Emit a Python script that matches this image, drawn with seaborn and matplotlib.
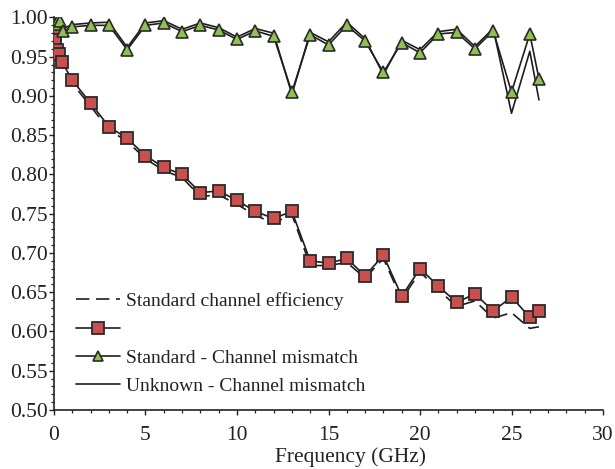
import matplotlib
matplotlib.use("Agg")
import matplotlib.pyplot as plt
from matplotlib.lines import Line2D
from matplotlib.ticker import MultipleLocator
import seaborn as sns
import pandas as pd

# ---- data ----
freq_eff = [0.04, 0.08, 0.15, 0.3, 0.45, 1, 2, 3, 4, 5, 6, 7, 8, 9, 10, 11, 12, 13,
            14, 15, 16, 17, 18, 19, 20, 21, 22, 23, 24, 25, 26, 26.5]
unknown_eff = [0.978, 0.971, 0.959, 0.953, 0.943, 0.920, 0.891, 0.861, 0.846, 0.824,
               0.809, 0.800, 0.777, 0.779, 0.767, 0.753, 0.744, 0.753, 0.690, 0.687,
               0.693, 0.671, 0.697, 0.645, 0.680, 0.658, 0.637, 0.648, 0.626, 0.644,
               0.618, 0.626]
standard_eff = [0.975, 0.967, 0.955, 0.949, 0.939, 0.916, 0.887, 0.857, 0.842, 0.820,
                0.805, 0.796, 0.772, 0.774, 0.762, 0.748, 0.738, 0.749, 0.684, 0.684,
                0.688, 0.668, 0.693, 0.641, 0.676, 0.653, 0.632, 0.639, 0.617, 0.624,
                0.604, 0.606]

freq_mm = [0.05, 0.2, 0.35, 0.5, 1, 2, 3, 4, 5, 6, 7, 8, 9, 10, 11, 12, 13, 14, 15,
           16, 17, 18, 19, 20, 21, 22, 23, 24, 25, 26, 26.5]
standard_mm = [0.992, 0.997, 0.995, 0.983, 0.988, 0.990, 0.990, 0.959, 0.990, 0.993,
               0.982, 0.990, 0.984, 0.972, 0.983, 0.976, 0.905, 0.978, 0.965, 0.990,
               0.970, 0.930, 0.968, 0.955, 0.979, 0.981, 0.960, 0.983, 0.905, 0.979,
               0.922]
unknown_mm = [0.994, 0.999, 0.997, 0.986, 0.991, 0.993, 0.994, 0.962, 0.993, 0.996,
              0.985, 0.993, 0.987, 0.975, 0.986, 0.980, 0.902, 0.981, 0.969, 0.994,
              0.973, 0.927, 0.971, 0.959, 0.982, 0.985, 0.963, 0.986, 0.878, 0.957,
              0.895]

labels = ["Standard channel efficiency", "",
          "Standard - Channel mismatch", "Unknown - Channel mismatch"]
x_ticks = [0, 5, 10, 15, 20, 25, 30]
y_ticks = [0.50, 0.55, 0.60, 0.65, 0.70, 0.75, 0.80, 0.85, 0.90, 0.95, 1.00]

df_eff = pd.DataFrame({"f": freq_eff, "unk": unknown_eff, "std": standard_eff})
df_mm = pd.DataFrame({"f": freq_mm, "unk": unknown_mm, "std": standard_mm})

# ---- style ----
sns.set_style("ticks")
plt.rcParams["font.family"] = ["Liberation Serif", "DejaVu Serif"]

LINE = "#1e1e1e"
RED = "#c9504f"
GREEN = "#8fc150"
EDGE = "#2a2a2a"

fig = plt.figure(figsize=(6.15, 4.69), dpi=100)
ax = fig.add_axes([0.0878, 0.1258, 0.8927, 0.8369])

sns.lineplot(data=df_mm, x="f", y="unk", ax=ax, color=LINE, lw=1.2, zorder=2)
sns.lineplot(data=df_eff, x="f", y="std", ax=ax, color=LINE, lw=1.2,
             dashes=False, zorder=2)
ax.lines[-1].set_dashes([8, 4])
sns.lineplot(data=df_eff, x="f", y="unk", ax=ax, color=LINE, lw=1.2, zorder=3,
             marker="s", markersize=9, markerfacecolor=RED,
             markeredgecolor=EDGE, markeredgewidth=1.3)
sns.lineplot(data=df_mm, x="f", y="std", ax=ax, color=LINE, lw=1.2, zorder=3,
             marker="^", markersize=8.5, markerfacecolor=GREEN,
             markeredgecolor=EDGE, markeredgewidth=1.2)

ax.set_xlim(0, 30)
ax.set_ylim(0.50, 1.00)
ax.set_xticks(x_ticks)
ax.set_xticklabels([str(v) for v in x_ticks])
ax.set_yticks(y_ticks)
ax.set_yticklabels([f"{v:.2f}" for v in y_ticks])
ax.xaxis.set_minor_locator(MultipleLocator(1))
ax.yaxis.set_minor_locator(MultipleLocator(0.01))
ax.tick_params(axis="both", which="major", direction="out", length=3.5,
               width=1.0, color="#222222", labelsize=15.5, labelcolor="#222222")
ax.tick_params(axis="x", which="major", pad=8)
ax.tick_params(axis="y", which="major", pad=1)
ax.tick_params(axis="both", which="minor", direction="out", length=2.5,
               width=0.9, color="#222222")
for s in ["top", "right"]:
    ax.spines[s].set_visible(False)
for s in ["left", "bottom"]:
    ax.spines[s].set_color("#222222")
    ax.spines[s].set_linewidth(1.2)

ax.set_xlabel("Frequency (GHz)", fontsize=15.5, color="#222222", labelpad=1)
ax.xaxis.set_label_coords(0.54, -0.095)
ax.set_ylabel("")

handles = [
    Line2D([], [], color=LINE, lw=1.2, dashes=[8, 4]),
    Line2D([], [], color=LINE, lw=1.2, marker="s", markersize=8.5,
           markerfacecolor=RED, markeredgecolor=EDGE, markeredgewidth=1.3),
    Line2D([], [], color=LINE, lw=1.2, marker="^", markersize=7,
           markerfacecolor=GREEN, markeredgecolor=EDGE, markeredgewidth=1.2),
    Line2D([], [], color=LINE, lw=1.2),
]
leg = ax.legend(handles, labels, loc="upper left", bbox_to_anchor=(0.025, 0.32),
                frameon=False, fontsize=14, handlelength=2.3,
                handletextpad=0.3, labelspacing=0.55, borderaxespad=0)
for t in leg.get_texts():
    t.set_color("#222222")

fig.savefig("out.png", dpi=100)
